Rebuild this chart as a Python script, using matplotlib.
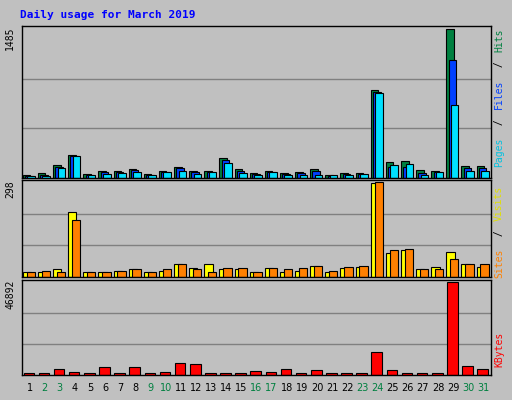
import matplotlib
matplotlib.use("Agg")
import matplotlib.pyplot as plt
import numpy as np

days = list(range(1, 32))
weekend = [2, 3, 9, 10, 16, 17, 23, 24, 30, 31]
hits = [27,50,128,229,37,67,67,91,37,67,108,67,67,199,88,47,67,47,57,88,27,47,47,876,158,168,77,67,1485,118,118]
files = [20,25,110,220,30,55,55,80,30,55,95,55,60,180,70,35,55,40,45,70,22,38,40,860,110,110,45,55,1180,100,100]
pages = [17,17,98,219,27,37,47,57,27,57,67,37,57,148,47,27,57,27,27,27,27,27,37,846,128,138,27,57,730,67,67]
visits = [16,16,24,204,16,16,19,24,16,19,42,27,42,24,24,16,27,16,19,36,16,27,30,294,74,85,24,30,77,42,30]
sites = [16,19,16,178,16,16,19,24,16,24,42,24,16,27,27,16,27,24,27,36,19,32,36,298,85,88,24,24,56,42,42]
kbytes = [800,800,3240,1360,800,3900,800,3900,800,1360,5970,5450,800,800,800,1900,1360,2900,800,2400,800,800,800,11600,2400,800,800,800,46892,4430,2900]

W, H = 512, 400
fig = plt.figure(figsize=(W/100, H/100), dpi=100)
fig.patch.set_facecolor('#C0C0C0')
mono = 'DejaVu Sans Mono'
fig.text(20/W, 1-15/H, 'Daily usage for March 2019', color='#0000FF', fontsize=8,
         fontweight='bold', family=mono, va='center')

def px(x0, y0, x1, y1):
    return [x0/W, 1-y1/H, (x1-x0)/W, (y1-y0)/H]

x = np.array(days)
def setup(ax, top, label):
    ax.set_facecolor('#C0C0C0')
    ax.set_xlim(0.5, 31.5)
    ax.set_ylim(0, top*1.02)
    for f in (1/3, 2/3):
        ax.axhline(top*f, color='#808080', lw=1, zorder=0)
    ax.set_xticks([]); ax.set_yticks([])
    for s in ax.spines.values():
        s.set_color('black'); s.set_linewidth(1)
    ax.text(-0.025, 1.0, label, transform=ax.transAxes, rotation=90, ha='center',
            va='top', fontsize=7, family=mono)

ax1 = fig.add_axes(px(22, 26, 491, 178))
setup(ax1, max(hits), '1485')
kw = dict(edgecolor='black', linewidth=0.8, align='edge')
ax1.bar(x-0.45, hits, 0.5, color='#008040', **kw)
ax1.bar(x-0.3, files, 0.5, color='#0040FF', **kw)
ax1.bar(x-0.15, pages, 0.5, color='#00E0FF', **kw)

ax2 = fig.add_axes(px(22, 180, 491, 277))
setup(ax2, max(sites), '298')
ax2.bar(x-0.45, visits, 0.55, color='#FFFF00', **kw)
ax2.bar(x-0.2, sites, 0.55, color='#FF8000', **kw)

ax3 = fig.add_axes(px(22, 280, 491, 375))
setup(ax3, max(kbytes), '46892')
ax3.bar(x-0.4, kbytes, 0.7, color='#FF0000', **kw)

for d in days:
    fig.text((22 + (d-0.5)/31*469)/W, 1-388/H, str(d), ha='center', va='center',
             fontsize=7, color='#008040' if d in weekend else 'black')

def rlabel(y_center, parts):
    # parts drawn bottom-to-top
    total = sum(len(t) for t, _ in parts)
    ch = 7.2
    y = y_center + total*ch/2
    for t, c in parts:
        fig.text(499/W, 1-y/H, t, rotation=90, ha='center', va='bottom', fontsize=7,
                 color=c, family=mono)
        y -= len(t)*ch

rlabel(95, [('Pages', '#00C0E0'), (' / ', 'black'), ('Files', '#0040FF'), (' / ', 'black'), ('Hits', '#008040')])
rlabel(228, [('Sites', '#FF8000'), (' / ', 'black'), ('Visits', '#E0E000')])
rlabel(345, [('KBytes', '#FF0000')])

fig.savefig('out.png', dpi=100, facecolor=fig.get_facecolor())
